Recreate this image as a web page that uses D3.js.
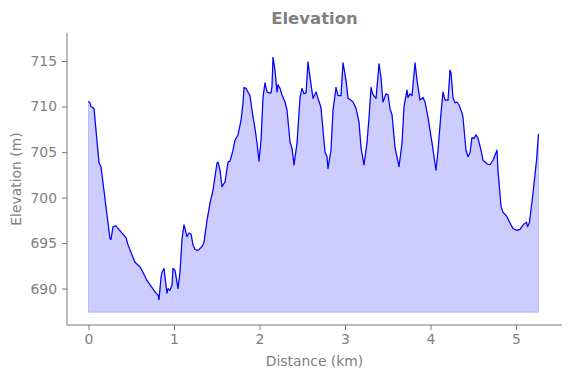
<!DOCTYPE html>
<html><head><meta charset="utf-8">
<script src="https://cdn.jsdelivr.net/npm/d3@7"></script>
<style>body{margin:0;background:#fff}svg{display:block}text{font-family:"DejaVu Sans",sans-serif}</style>
</head><body><svg id="c" width="571" height="378"></svg>
<script>
const distance = [0.000,0.018,0.029,0.064,0.123,0.135,0.146,0.251,0.263,0.287,0.322,0.345,0.392,0.439,0.462,0.509,0.544,0.602,0.637,0.684,0.743,0.789,0.813,0.825,0.848,0.860,0.883,0.918,0.930,0.953,0.977,0.988,1.012,1.047,1.070,1.094,1.117,1.152,1.175,1.199,1.222,1.246,1.281,1.327,1.351,1.386,1.421,1.456,1.503,1.515,1.538,1.561,1.596,1.632,1.655,1.690,1.713,1.749,1.784,1.807,1.819,1.842,1.865,1.889,1.912,1.947,1.971,1.994,2.018,2.041,2.064,2.088,2.111,2.135,2.146,2.158,2.181,2.205,2.216,2.240,2.263,2.298,2.322,2.357,2.380,2.404,2.439,2.474,2.497,2.520,2.544,2.567,2.591,2.626,2.661,2.684,2.719,2.766,2.789,2.801,2.836,2.860,2.895,2.918,2.953,2.977,3.012,3.035,3.070,3.094,3.129,3.164,3.187,3.222,3.257,3.281,3.304,3.327,3.363,3.398,3.421,3.444,3.480,3.503,3.526,3.550,3.585,3.632,3.667,3.690,3.725,3.737,3.760,3.784,3.819,3.842,3.877,3.912,3.936,3.971,4.018,4.064,4.088,4.123,4.146,4.170,4.205,4.228,4.240,4.263,4.287,4.310,4.333,4.368,4.380,4.415,4.439,4.462,4.485,4.509,4.532,4.556,4.591,4.614,4.661,4.696,4.731,4.778,4.789,4.825,4.848,4.895,4.930,4.965,5.012,5.047,5.082,5.123,5.135,5.158,5.199,5.240,5.263];
const elevation = [710.6,710.4,710.0,709.8,703.8,703.6,703.4,695.5,695.4,696.8,696.9,696.6,696.1,695.6,694.8,693.7,692.9,692.4,691.8,690.9,690.1,689.5,689.3,688.8,691.2,691.8,692.2,689.5,690.0,689.8,690.4,692.2,692.0,690.0,691.8,695.5,697.0,695.7,696.1,696.0,694.8,694.3,694.2,694.6,695.1,697.5,699.4,700.8,703.8,703.9,703.0,701.2,701.7,703.9,704.0,705.2,706.3,706.9,708.5,710.4,712.1,712.0,711.6,711.2,709.6,707.6,706.0,704.0,706.3,711.0,712.6,711.6,711.5,711.5,712.2,715.4,714.0,711.6,712.4,712.0,711.3,710.5,709.6,706.1,705.4,703.6,706.0,711.0,712.0,711.4,711.5,714.9,713.2,710.9,711.6,710.9,709.9,705.0,704.5,703.2,705.2,709.6,712.1,711.2,711.2,714.8,712.9,710.9,710.7,710.5,709.8,708.3,705.5,703.6,706.0,708.8,712.1,711.3,710.9,714.7,713.2,710.5,711.4,711.3,709.8,709.1,705.5,703.4,706.0,710.0,711.8,711.0,711.4,711.2,714.8,712.9,710.7,711.0,710.5,708.8,706.0,703.0,705.2,709.3,711.6,710.7,710.7,714.0,713.7,711.0,710.4,710.5,710.2,709.3,708.8,705.2,704.5,704.9,706.6,706.5,706.9,706.5,705.2,704.1,703.7,703.6,704.1,705.2,703.0,699.0,698.4,697.9,697.2,696.6,696.4,696.5,697.0,697.3,696.8,697.3,700.5,704.1,707.0];
const fillBase = 687.4;
const xTicks = [0,1,2,3,4,5];
const yTicks = [690,695,700,705,710,715];
const title = "Elevation", xLabel = "Distance (km)", yLabel = "Elevation (m)";

const L = 67, R = 562, T = 33, B = 325;
const grey = "#808080";
const svg = d3.select("#c");
const x = d3.scaleLinear().domain([-0.2515, 5.538]).range([L, R]);
const y = d3.scaleLinear().domain([686.0, 718.08]).range([B, T]);
const pts = distance.map((d,i)=>[d, elevation[i]]);

svg.append("path").datum(pts)
  .attr("d", d3.area().x(d=>x(d[0])).y0(y(fillBase)).y1(d=>y(d[1])))
  .attr("fill","rgb(0,0,255)").attr("fill-opacity",0.2)
  .attr("stroke","rgb(0,0,255)").attr("stroke-opacity",0.2).attr("stroke-width",1);
svg.append("path").datum(pts)
  .attr("d", d3.line().x(d=>x(d[0])).y(d=>y(d[1])))
  .attr("fill","none").attr("stroke","#0000ff").attr("stroke-width",1.2).attr("stroke-linejoin","round");

const xa = svg.append("g").attr("transform",`translate(0,${B})`)
  .call(d3.axisBottom(x).tickValues(xTicks).tickFormat(d3.format("d")).tickSize(5).tickPadding(4).tickSizeOuter(0));
const ya = svg.append("g").attr("transform",`translate(${L},0)`)
  .call(d3.axisLeft(y).tickValues(yTicks).tickFormat(d3.format("d")).tickSize(5).tickPadding(5).tickSizeOuter(0));
[xa,ya].forEach(a=>{
  a.select(".domain").attr("stroke","#777").attr("d", a===xa ? `M${L},0H${R}` : `M0,${T}V${B}`);
  a.selectAll(".tick line").attr("stroke","#777");
  a.selectAll(".tick text").attr("fill",grey).style("font-size","13.9px").style("font-family","DejaVu Sans");
});

svg.append("text").attr("x",(L+R)/2).attr("y",24).attr("text-anchor","middle")
  .attr("fill",grey).style("font-size","16.5px").style("font-weight","bold").text(title);
svg.append("text").attr("x",(L+R)/2).attr("y",366).attr("text-anchor","middle")
  .attr("fill",grey).style("font-size","13.9px").text(xLabel);
svg.append("text").attr("transform",`translate(21,${(T+B)/2}) rotate(-90)`).attr("text-anchor","middle")
  .attr("fill",grey).style("font-size","13.9px").text(yLabel);
</script></body></html>
